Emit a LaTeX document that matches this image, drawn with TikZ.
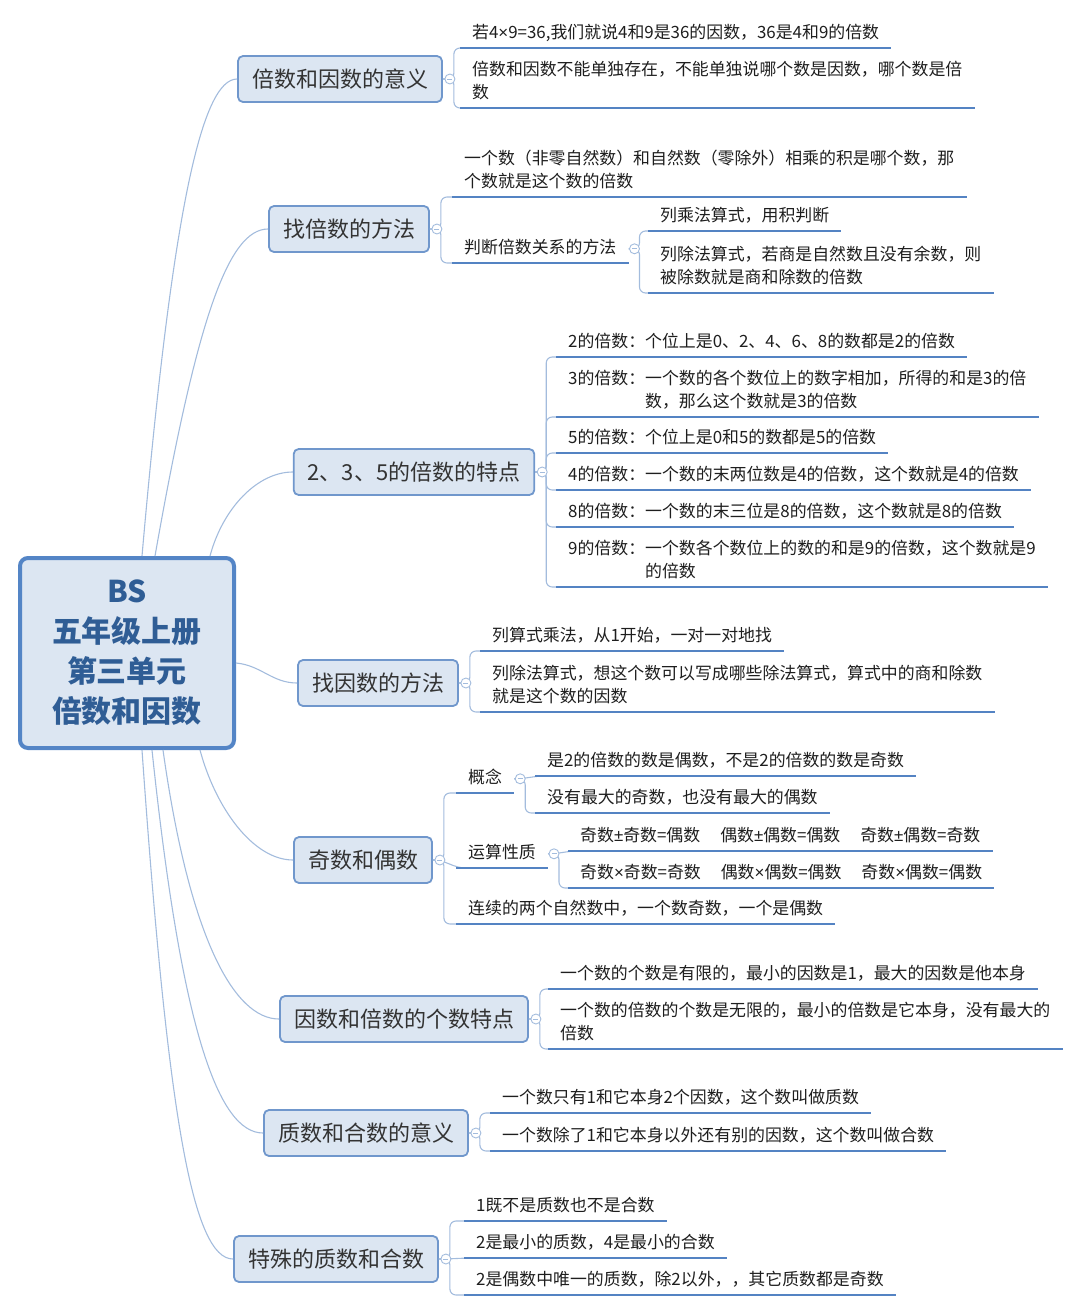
\documentclass[tikz,border=0pt]{standalone}
\usepackage{fontspec}
\setmainfont{Noto Sans CJK SC}
\newfontfamily\narrowf{Liberation Sans}
\usetikzlibrary{calc}

\definecolor{boxfill}{HTML}{DCE6F2}
\definecolor{boxline}{HTML}{7097CC}
\definecolor{rootline}{HTML}{5485C6}
\definecolor{roottext}{HTML}{2F5D95}
\definecolor{ulinec}{HTML}{5483C3}
\definecolor{linkc}{HTML}{A3BCDD}
\definecolor{leaftext}{HTML}{1E1E1E}

\newcommand{\mytimes}{{\narrowf ×}}
\newcommand{\mypm}{{\narrowf ±}}

\tikzset{
  root/.style={draw=rootline, line width=4pt, fill=boxfill, rounded corners=8pt,
    minimum width=214pt, minimum height=190pt, align=center, text=roottext,
    font=\fontsize{30}{40}\selectfont\bfseries},
  topic/.style={draw=boxline, line width=1.8pt, fill=boxfill, rounded corners=5pt,
    minimum height=46pt, inner xsep=14pt, text=black!80,
    font=\fontsize{22}{26}\selectfont},
  leaf/.style={anchor=south west, align=left, inner xsep=12pt, inner ysep=2.5pt,
    text=leaftext, font=\fontsize{16.9}{23}\selectfont, execute at end node=\strut},
  uline/.style={draw=ulinec, line width=2.8pt},
  link/.style={draw=linkc, line width=1.1pt},
  fold/.style={circle, draw=linkc, fill=white, line width=0.9pt, minimum size=10pt,
    inner sep=0pt, path picture={\draw[linkc, line width=0.9pt]
      ([xshift=-2.5pt]path picture bounding box.center) --
      ([xshift=2.5pt]path picture bounding box.center);}},
}

\begin{document}
\begin{tikzpicture}[x=1pt, y=1pt]
  \useasboundingbox (0,0) rectangle (1080,-1310);

  % centre
  \node[root] (root) at (127,-653) {BS\\五年级上册\\第三单元\\倍数和因数};

  % main topics
  \node[topic] (b1) at (340,-79) {倍数和因数的意义};
  \node[topic] (b2) at (349,-229) {找倍数的方法};
  \node[topic] (b3) at (414,-472) {2、3、5的倍数的特点};
  \node[topic] (b4) at (378,-683) {找因数的方法};
  \node[topic] (b5) at (363,-860) {奇数和偶数};
  \node[topic] (b6) at (404,-1019) {因数和倍数的个数特点};
  \node[topic] (b7) at (366,-1133) {质数和合数的意义};
  \node[topic] (b8) at (336,-1259) {特殊的质数和合数};

  \draw[link] ([xshift=124]root.north west) to[out=85, in=180, out distance=350, in distance=35] (b1.west);
  \draw[link] ([xshift=137]root.north west) to[out=80, in=180, out distance=240, in distance=40] (b2.west);
  \draw[link] ([xshift=192]root.north west) to[out=75, in=180, out distance=50, in distance=35] (b3.west);
  \draw[link] ([yshift=-10]root.east) to[out=-5, in=180] (b4.west);
  \draw[link] ([xshift=182]root.south west) to[out=-75, in=180, out distance=60, in distance=40] (b5.west);
  \draw[link] ([xshift=145]root.south west) to[out=-82, in=180, out distance=190, in distance=45] (b6.west);
  \draw[link] ([xshift=134]root.south west) to[out=-84, in=180, out distance=280, in distance=45] (b7.west);
  \draw[link] ([xshift=124]root.south west) to[out=-86, in=180, out distance=370, in distance=40] (b8.west);

  % leaves
  \node[leaf] (l1a) at (460,-48) {若4\mytimes 9=36,我们就说4和9是36的因数，36是4和9的倍数};
  \node[leaf] (l1b) at (460,-108) {倍数和因数不能单独存在，不能单独说哪个数是因数，哪个数是倍\\数};

  \node[leaf] (l2a) at (452,-197) {一个数（非零自然数）和自然数（零除外）相乘的积是哪个数，那\\个数就是这个数的倍数};
  \node[leaf] (s2) at (452,-263) {判断倍数关系的方法};
  \node[leaf] (l2b) at (648,-231) {列乘法算式，用积判断};
  \node[leaf] (l2c) at (648,-293) {列除法算式，若商是自然数且没有余数，则\\被除数就是商和除数的倍数};

  \node[leaf] (l3a) at (556,-357) {2的倍数：个位上是0、2、4、6、8的数都是2的倍数};
  \node[leaf] (l3b) at (556,-417) {3的倍数：一个数的各个数位上的数字相加，所得的和是3的倍\\\hphantom{3的倍数：}数，那么这个数就是3的倍数};
  \node[leaf] (l3c) at (556,-453) {5的倍数：个位上是0和5的数都是5的倍数};
  \node[leaf] (l3d) at (556,-490) {4的倍数：一个数的末两位数是4的倍数，这个数就是4的倍数};
  \node[leaf] (l3e) at (556,-527) {8的倍数：一个数的末三位是8的倍数，这个数就是8的倍数};
  \node[leaf] (l3f) at (556,-587) {9的倍数：一个数各个数位上的数的和是9的倍数，这个数就是9\\\hphantom{9的倍数：}的倍数};

  \node[leaf] (l4a) at (480,-651) {列算式乘法，从1开始，一对一对地找};
  \node[leaf] (l4b) at (480,-712) {列除法算式，想这个数可以写成哪些除法算式，算式中的商和除数\\就是这个数的因数};

  \node[leaf] (s5a) at (456,-793) {概念};
  \node[leaf] (l5a) at (535,-776) {是2的倍数的数是偶数，不是2的倍数的数是奇数};
  \node[leaf] (l5b) at (535,-813) {没有最大的奇数，也没有最大的偶数};
  \node[leaf] (s5b) at (456,-868) {运算性质};
  \node[leaf] (l5c) at (568,-851) {奇数\mypm 奇数=偶数\hspace{20pt}偶数\mypm 偶数=偶数\hspace{20pt}奇数\mypm 偶数=奇数};
  \node[leaf] (l5d) at (568,-888) {奇数\mytimes 奇数=奇数\hspace{20pt}偶数\mytimes 偶数=偶数\hspace{20pt}奇数\mytimes 偶数=偶数};
  \node[leaf] (l5e) at (456,-924) {连续的两个自然数中，一个数奇数，一个是偶数};

  \node[leaf] (l6a) at (548,-989) {一个数的个数是有限的，最小的因数是1，最大的因数是他本身};
  \node[leaf] (l6b) at (548,-1049) {一个数的倍数的个数是无限的，最小的倍数是它本身，没有最大的\\倍数};

  \node[leaf] (l7a) at (490,-1113) {一个数只有1和它本身2个因数，这个数叫做质数};
  \node[leaf] (l7b) at (490,-1151) {一个数除了1和它本身以外还有别的因数，这个数叫做合数};

  \node[leaf] (l8a) at (464,-1221) {1既不是质数也不是合数};
  \node[leaf] (l8b) at (464,-1258) {2是最小的质数，4是最小的合数};
  \node[leaf] (l8c) at (464,-1295) {2是偶数中唯一的质数，除2以外，，其它质数都是奇数};

  % braces
  \foreach \pa/\ch in {b1/l1a, b1/l1b, b2/l2a, b2/s2, s2/l2b, s2/l2c,
      b3/l3a, b3/l3b, b3/l3c, b3/l3d, b3/l3e, b3/l3f, b4/l4a, b4/l4b,
      b5/s5a, b5/l5e, s5a/l5b, s5b/l5d, b6/l6a, b6/l6b, b7/l7a, b7/l7b,
      b8/l8a, b8/l8c}
    \draw[link, rounded corners=6pt] (\pa.east) -- ++(11,0) |- ([xshift=10]\ch.south west);
  \foreach \pa/\ch in {b5/s5b, s5a/l5a, s5b/l5c, b8/l8b}
    \draw[link] (\pa.east) to[out=0, in=180] ([xshift=10]\ch.south west);

  % underlines
  \foreach \n in {l1a, l1b, l2a, s2, l2b, l2c, l3a, l3b, l3c, l3d, l3e, l3f,
      l4a, l4b, s5a, l5a, l5b, s5b, l5c, l5d, l5e, l6a, l6b, l7a, l7b, l8a, l8b, l8c}
    \draw[uline] (\n.south west) -- (\n.south east);

  % fold marks
  \foreach \n in {b1, b2, b3, b4, b5, b6, b7, b8}
    \node[fold] (f\n) at ([xshift=7]\n.east) {};
  \foreach \n in {s2, s5a, s5b}
    \node[fold] (f\n) at ([xshift=6]\n.east) {};
\end{tikzpicture}
\end{document}
